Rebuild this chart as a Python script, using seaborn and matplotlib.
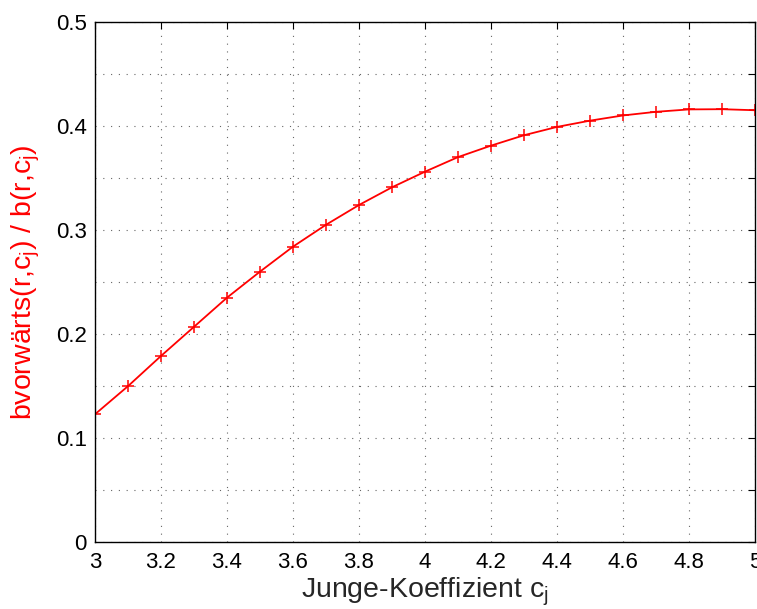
import seaborn as sns
import pandas as pd
import matplotlib.pyplot as plt
from matplotlib.ticker import MultipleLocator

# Werte
c_j = [3.0, 3.1, 3.2, 3.3, 3.4, 3.5, 3.6, 3.7, 3.8, 3.9, 4.0,
       4.1, 4.2, 4.3, 4.4, 4.5, 4.6, 4.7, 4.8, 4.9, 5.0]
ratio = [0.123, 0.150, 0.179, 0.207, 0.235, 0.260, 0.284, 0.305, 0.324, 0.341, 0.356,
         0.370, 0.381, 0.391, 0.399, 0.405, 0.410, 0.4135, 0.4158, 0.416, 0.415]
x_ticks = [3, 3.2, 3.4, 3.6, 3.8, 4, 4.2, 4.4, 4.6, 4.8, 5]
x_labels = ["3", "3.2", "3.4", "3.6", "3.8", "4", "4.2", "4.4", "4.6", "4.8", "5"]
y_ticks = [0, 0.1, 0.2, 0.3, 0.4, 0.5]
y_labels = ["0", "0.1", "0.2", "0.3", "0.4", "0.5"]

sns.set_theme(style="white")
plt.rcParams['font.family'] = ['Liberation Sans', 'DejaVu Sans']
plt.rcParams['mathtext.fontset'] = 'custom'
plt.rcParams['mathtext.rm'] = 'Liberation Sans'
plt.rcParams['mathtext.it'] = 'Liberation Sans'

df = pd.DataFrame({"c": c_j, "b": ratio})

fig = plt.figure(figsize=(7.57, 6.09), dpi=100)
ax = fig.add_axes([0.1255, 0.1095, 0.8719, 0.8548])

sns.lineplot(data=df, x="c", y="b", ax=ax, color="red", linewidth=1.3,
             marker="+", markersize=8, markeredgewidth=1.1, markeredgecolor="red")

ax.set_xlim(3, 5)
ax.set_ylim(0, 0.5)
ax.set_xticks(x_ticks)
ax.set_xticklabels(x_labels)
ax.set_yticks(y_ticks)
ax.set_yticklabels(y_labels)
ax.yaxis.set_minor_locator(MultipleLocator(0.05))

ax.grid(True, which="both", axis="both", color="0.4", linestyle=(0, (1, 6)), linewidth=0.8)
ax.tick_params(which="both", direction="in", length=5, width=0.8, top=True, right=True,
               labelsize=16, colors="black")
ax.tick_params(axis="x", pad=7)
ax.tick_params(axis="y", pad=6)
for s in ax.spines.values():
    s.set_color("black")
    s.set_linewidth(1.0)

ax.set_xlabel("Junge-Koeffizient c$_{\\rm j}$", fontsize=20.5, labelpad=2)
ax.set_ylabel("bvorwärts(r,c$_{\\rm j}$) / b(r,c$_{\\rm j}$)", fontsize=20.5, color="red", labelpad=10)

plt.savefig("out.png", dpi=100)
